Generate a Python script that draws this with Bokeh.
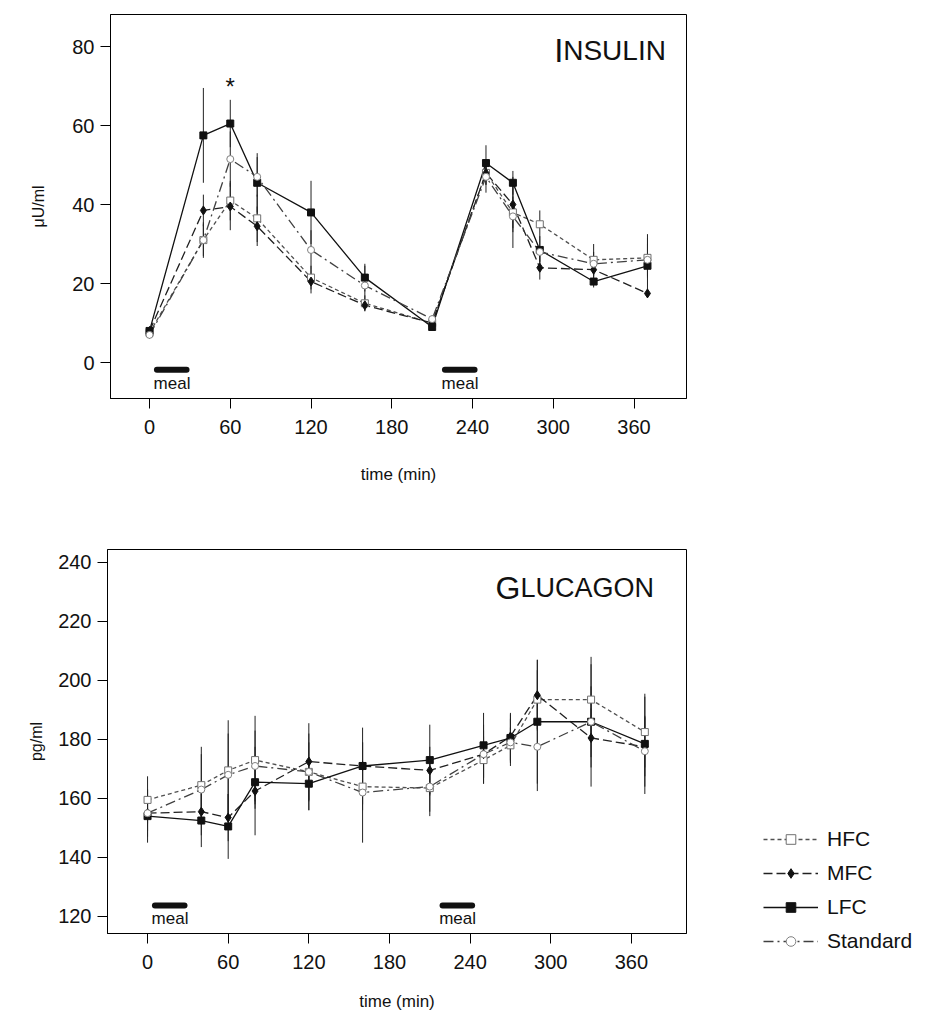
from bokeh.plotting import figure
from bokeh.models import ColumnDataSource, Legend, LegendItem, FixedTicker, Range1d, Label
from bokeh.layouts import column, row
from bokeh.embed import file_html
from bokeh.resources import INLINE
from bokeh.core.properties import value

# ---------------- data ----------------
times = [0, 40, 60, 80, 120, 160, 210, 250, 270, 290, 330, 370]
x_ticks = [0, 60, 120, 180, 240, 300, 360]
ins_ticks = [0, 20, 40, 60, 80]
glu_ticks = [120, 140, 160, 180, 200, 220, 240]
series = ["HFC", "MFC", "LFC", "Standard"]

# Insulin (µU/ml), mean and SE
ins_hfc = [7.5, 31, 41, 36.5, 21.5, 15, 10, 48, 38, 35, 26, 26.5]
ins_mfc = [8, 38.5, 39.5, 34.5, 20.5, 14.5, 10, 48, 40, 24, 23.5, 17.5]
ins_lfc = [8, 57.5, 60.5, 45.5, 38, 21.5, 9, 50.5, 45.5, 28.5, 20.5, 24.5]
ins_std = [7, 31, 51.5, 47, 28.5, 19.5, 11, 47, 37, 28, 25, 26]
ins_hfc_se = [1, 4.5, 5, 6, 3, 2, 1, 3, 4, 3.5, 4, 5]
ins_mfc_se = [1, 4, 6, 5, 3, 1.5, 1, 3, 7, 3, 2, 1]
ins_lfc_se = [1, 12, 6, 7.5, 8, 3.5, 1, 4.5, 3, 3, 1.5, 8]
ins_std_se = [1, 4, 7, 5, 5, 5, 1, 4, 8, 4, 3, 4]

# Glucagon (pg/ml), mean and SE
glu_hfc = [159.5, 164.5, 169.5, 173, 169, 164, 163.5, 173, 178, 193.5, 193.5, 182.5]
glu_mfc = [155, 155.5, 153.5, 162.5, 172.5, 171, 169.5, 175, 181, 195, 180.5, 177.5]
glu_lfc = [154, 152.5, 150.5, 165.5, 165, 171, 173, 178, 180.5, 186, 186, 178.5]
glu_std = [155, 163, 168, 171, 169, 162, 164, 175, 179, 177.5, 186, 176]
glu_hfc_se = [8, 13, 17, 15, 13, 8, 8, 8, 6, 10, 12, 12]
glu_mfc_se = [6, 8, 8, 15, 13, 8, 8, 8, 8, 12, 10, 10]
glu_lfc_se = [9, 9, 11, 9, 9, 13, 12, 11, 8, 21, 22, 17]
glu_std_se = [8, 12, 14, 12, 10, 17, 10, 10, 8, 15, 12, 12]

meal_start = [3, 217]
meal_end = [30, 244]

FONT = "Liberation Sans"

styles = {
    "HFC": dict(dash="4 3", color="#505050", marker="square", fill="white", mline="#707070", size=7),
    "MFC": dict(dash="9 4", color="#202020", marker="diamond", fill="#111111", mline="#111111", size=9),
    "LFC": dict(dash="solid", color="#111111", marker="square", fill="#111111", mline="#111111", size=7),
    "Standard": dict(dash="10 4 2 4", color="#404040", marker="circle", fill="white", mline="#808080", size=7),
}


def make_fig(width, height, xr, yr, yticks, ylabel, bl, br, bt, bb, ylab_standoff, xlab_standoff):
    p = figure(width=width, height=height, x_range=Range1d(*xr), y_range=Range1d(*yr),
               output_backend="svg", toolbar_location=None, frame_align=False,
               min_border_left=bl, min_border_right=br, min_border_top=bt, min_border_bottom=bb)
    p.xgrid.visible = False
    p.ygrid.visible = False
    p.outline_line_color = "black"
    p.outline_line_width = 1
    p.outline_line_alpha = 1
    p.background_fill_color = "white"
    p.border_fill_color = "white"
    for ax in (p.xaxis, p.yaxis):
        ax.axis_line_color = "black"
        ax.major_tick_line_color = "black"
        ax.minor_tick_line_color = None
        ax.major_tick_out = 10
        ax.major_tick_in = 0
        ax.major_label_text_font = FONT
        ax.major_label_text_font_size = "20px"
        ax.major_label_text_color = "#111111"
        ax.axis_label_text_font = FONT
        ax.axis_label_text_font_style = "normal"
        ax.axis_label_text_color = "#111111"
    p.xaxis.ticker = FixedTicker(ticks=x_ticks)
    p.yaxis.ticker = FixedTicker(ticks=yticks)
    p.xaxis.major_label_standoff = 11
    p.yaxis.major_label_standoff = 6
    p.xaxis.axis_label = "time (min)"
    p.xaxis.axis_label_text_font_size = "17px"
    p.xaxis.axis_label_standoff = xlab_standoff
    p.yaxis.axis_label = ylabel
    p.yaxis.axis_label_text_font_size = "16px"
    p.yaxis.axis_label_standoff = ylab_standoff
    return p


def draw_series(p, means, ses):
    srcs = {}
    for name, m, s in zip(series, means, ses):
        src = ColumnDataSource(dict(t=times, m=m, lo=[a - b for a, b in zip(m, s)],
                                    hi=[a + b for a, b in zip(m, s)]))
        p.segment(x0="t", y0="lo", x1="t", y1="hi", source=src, line_color="#222222", line_width=1)
        srcs[name] = src
    out = {}
    for name in series:
        st = styles[name]
        lr = p.line(x="t", y="m", source=srcs[name], line_color=st["color"], line_width=1.3,
                    line_dash=st["dash"])
        out[name] = [lr]
    for name in series:
        st = styles[name]
        sr = p.scatter(x="t", y="m", source=srcs[name], marker=st["marker"], size=st["size"],
                       fill_color=st["fill"], line_color=st["mline"], line_width=1)
        out[name].append(sr)
    return out


def draw_meal(p, ybar, ytext):
    src = ColumnDataSource(dict(x0=[s + 2.5 for s in meal_start], x1=[e - 2.5 for e in meal_end],
                                y=[ybar] * len(meal_start), tx=meal_start,
                                ty=[ytext] * len(meal_start), txt=["meal"] * len(meal_start)))
    p.segment(x0="x0", y0="y", x1="x1", y1="y", source=src, line_color="#111111",
              line_width=6, line_cap="round")
    p.text(x="tx", y="ty", text="txt", source=src, text_font=value(FONT),
           text_font_size="17px", text_baseline="middle", text_align="left", text_color="#111111")


# ---------------- insulin ----------------
p1 = make_fig(700, 535, (-29, 399), (-9.1, 88.1), ins_ticks, "μU/ml", 110, 14, 14, 137, 22, 28)
draw_series(p1, [ins_hfc, ins_mfc, ins_lfc, ins_std], [ins_hfc_se, ins_mfc_se, ins_lfc_se, ins_std_se])
draw_meal(p1, -1.8, -5.4)
p1.text(x=[60], y=[70], text=["*"], text_font=value(FONT), text_font_size="24px",
        text_align="center", text_baseline="middle", text_color="#111111")
p1.add_layout(Label(x=300.8, y=79.0, text="I", text_font=FONT, text_font_size="33px",
                    text_color="#111111", text_align="left", text_baseline="alphabetic"))
p1.add_layout(Label(x=307.4, y=79.0, text="NSULIN", text_font=FONT, text_font_size="28px",
                    text_color="#111111", text_align="left", text_baseline="alphabetic"))

# ---------------- glucagon ----------------
p2 = make_fig(700, 486, (-29.8, 401), (114.2, 244.4), glu_ticks, "pg/ml", 107, 14, 14, 88, 10, 20)
draw_series(p2, [glu_hfc, glu_mfc, glu_lfc, glu_std], [glu_hfc_se, glu_mfc_se, glu_lfc_se, glu_std_se])
draw_meal(p2, 123.7, 119.3)
p2.add_layout(Label(x=258.8, y=231.5, text="G", text_font=FONT, text_font_size="32px",
                    text_color="#111111", text_align="left", text_baseline="alphabetic"))
p2.add_layout(Label(x=277.5, y=231.5, text="LUCAGON", text_font=FONT, text_font_size="27px",
                    text_color="#111111", text_align="left", text_baseline="alphabetic"))

# ---------------- legend panel ----------------
pl = figure(width=244, height=486, x_range=Range1d(0, 1), y_range=Range1d(0, 1),
            output_backend="svg", toolbar_location=None, min_border=0, frame_align=False)
pl.axis.visible = False
pl.xgrid.visible = False
pl.ygrid.visible = False
pl.outline_line_color = None
pl.background_fill_color = "white"
pl.border_fill_color = "white"
items = []
for name in series:
    st = styles[name]
    off = ColumnDataSource(dict(x=[-5], y=[-5]))  # outside the visible range
    lr = pl.line(x="x", y="y", source=off, line_color=st["color"], line_width=1.3, line_dash=st["dash"])
    sr = pl.scatter(x="x", y="y", source=off, marker=st["marker"], size=st["size"],
                    fill_color=st["fill"], line_color=st["mline"], line_width=1)
    items.append(LegendItem(label=name, renderers=[lr, sr]))

legend = Legend(items=items, location=(63, 68), orientation="vertical")
legend.border_line_color = None
legend.background_fill_alpha = 0
legend.padding = 0
legend.margin = 0
legend.spacing = 10
legend.glyph_width = 55
legend.glyph_height = 24
legend.label_height = 24
legend.label_standoff = 9
legend.label_text_font = FONT
legend.label_text_font_size = "21px"
legend.label_text_color = "#111111"
pl.add_layout(legend, "center")

layout = column(p1, row(p2, pl, spacing=0), spacing=0)
open("out.html", "w").write(file_html(layout, INLINE))
